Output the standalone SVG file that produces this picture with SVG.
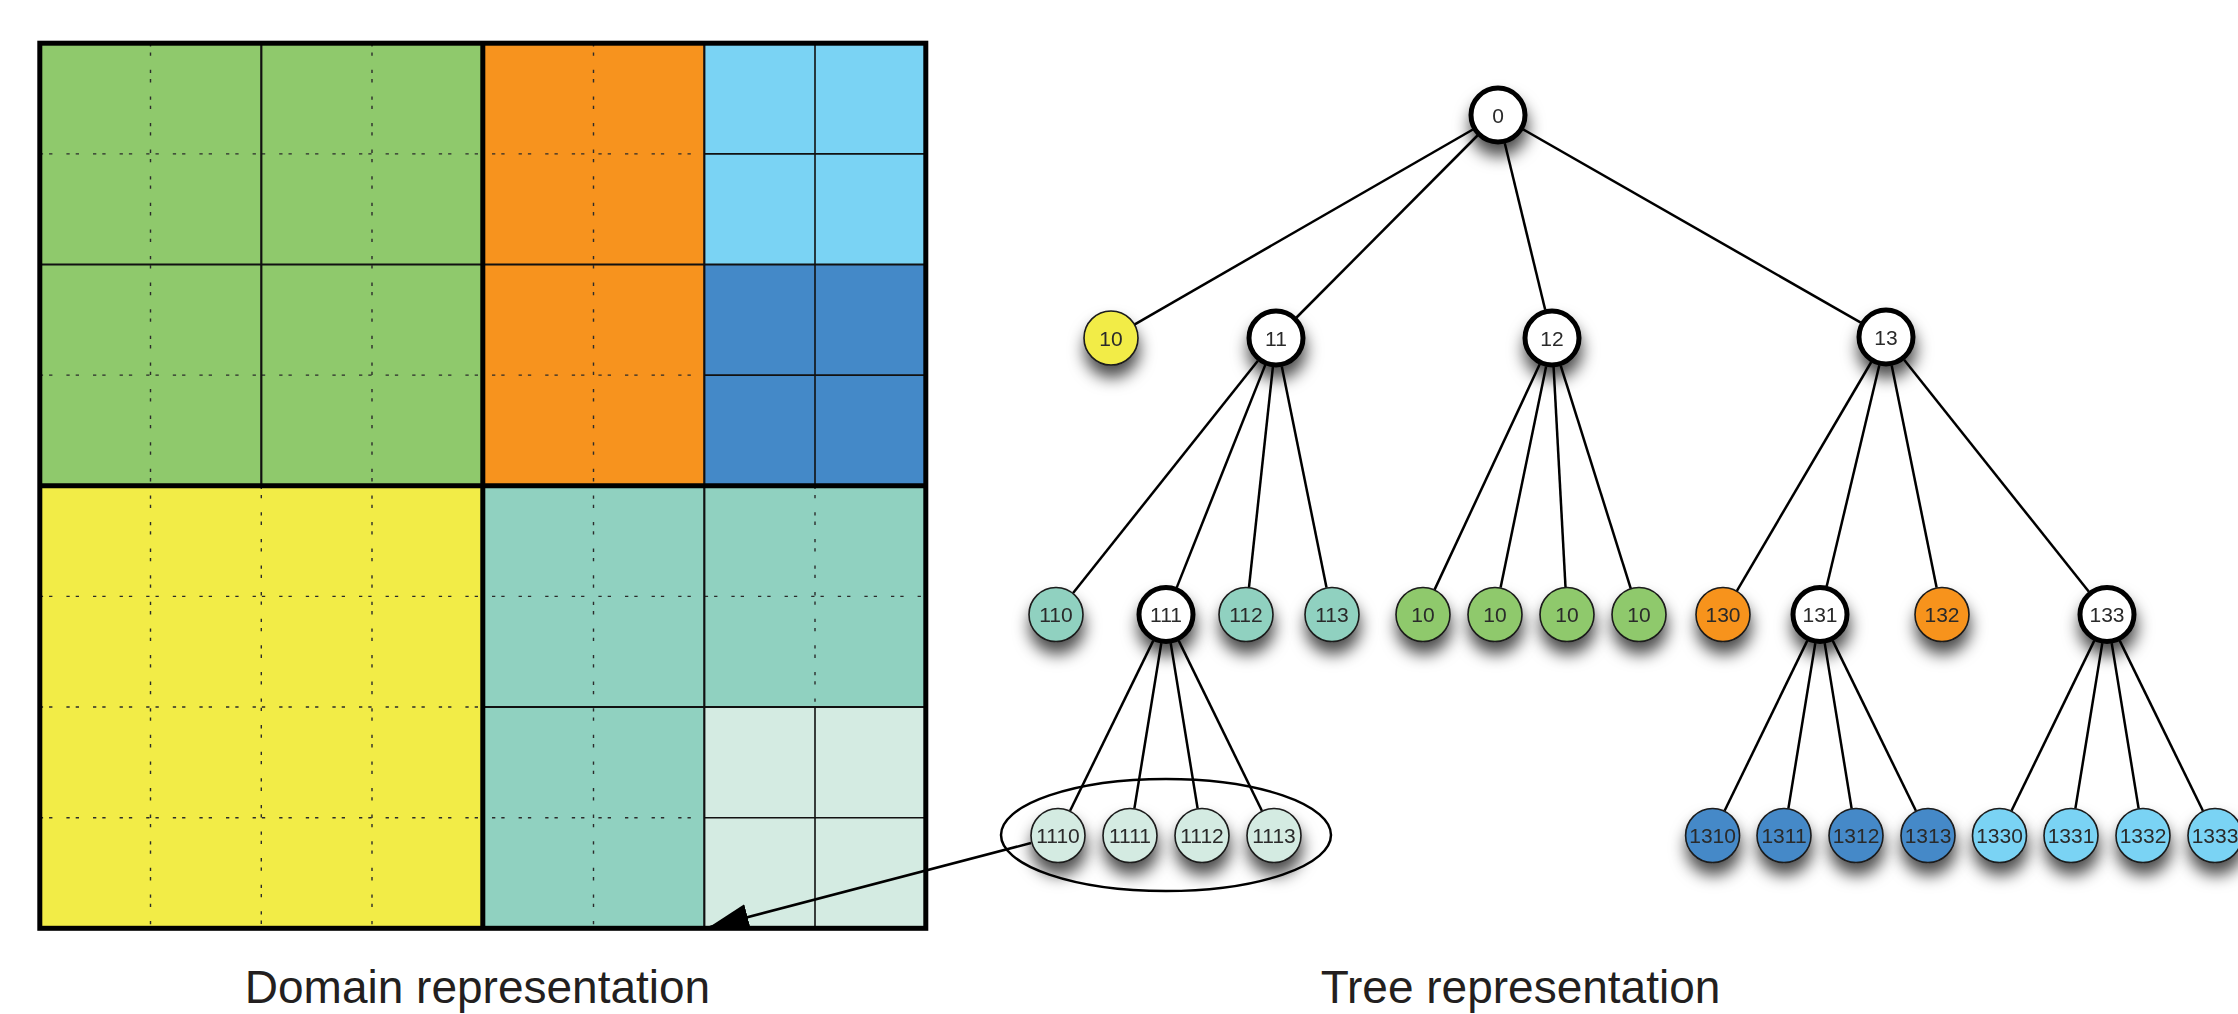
<svg xmlns="http://www.w3.org/2000/svg" width="2238" height="1014" viewBox="0 0 2238 1014">
  <style>
    .dot { stroke: #2b2b2b; stroke-width: 1.4; stroke-dasharray: 3.3 6 3.3 14; fill: none; }
    .q { stroke: #111; stroke-width: 2.2; fill: none; }
    .e { stroke: #111; stroke-width: 1.6; fill: none; }
    .thick { stroke: #000; stroke-width: 5; fill: none; }
    .edge { stroke: #000; stroke-width: 2.5; fill: none; }
    .leaf { stroke: #1a1a1a; stroke-width: 1.6; }
    .inner { fill: #fff; stroke: #000; stroke-width: 5; }
    .lbl { font-family: "Liberation Sans", Arial, sans-serif; font-size: 21px; fill: #2a2a2a; text-anchor: middle; }
    .title { font-family: "Liberation Sans", Arial, sans-serif; font-size: 46px; fill: #231f20; text-anchor: middle; }
    .yel { fill: #f2ec47; }
    .grn { fill: #8fc96c; }
    .org { fill: #f7931e; }
    .tea { fill: #90d1c0; }
    .ltt { fill: #d4ebe2; }
    .dbl { fill: #4489c8; }
    .lbl2 { fill: #7ad3f4; }
  </style>
  <defs>
    <filter id="shadow" x="-60%" y="-60%" width="220%" height="250%">
      <feDropShadow dx="1" dy="12" stdDeviation="8" flood-color="#000" flood-opacity="0.7"/>
    </filter>
    <marker id="arrowhead" markerUnits="userSpaceOnUse" markerWidth="40" markerHeight="30" viewBox="0 -12 36 24" refX="35" refY="0" orient="auto">
      <path d="M0,-12 L36,0 L0,12 z" fill="#000"/>
    </marker>
  </defs>

  <rect width="2238" height="1014" fill="#fff"/>

  <!-- Domain: quadtree cells -->
  <g id="domain">
    <rect class="grn" x="39.8" y="43.2" width="443" height="442.5"/>
    <rect class="org" x="482.8" y="43.2" width="221.5" height="442.5"/>
    <rect class="lbl2" x="704.3" y="43.2" width="221.5" height="221.3"/>
    <rect class="dbl" x="704.3" y="264.5" width="221.5" height="221.2"/>
    <rect class="yel" x="39.8" y="485.7" width="443" height="442.6"/>
    <rect class="tea" x="482.8" y="485.7" width="443" height="442.6"/>
    <rect class="ltt" x="704.3" y="707" width="221.5" height="221.3"/>

    <!-- finest grid, drawn dotted where cells are not refined -->
    <g>
      <line class="dot" x1="150.5" y1="43.2" x2="150.5" y2="928.3"/>
      <line class="dot" x1="372" y1="43.2" x2="372" y2="928.3"/>
      <line class="dot" x1="261.3" y1="485.7" x2="261.3" y2="928.3"/>
      <line class="dot" x1="593.5" y1="43.2" x2="593.5" y2="928.3"/>
      <line class="dot" x1="815" y1="485.7" x2="815" y2="707"/>
      <line class="dot" x1="39.8" y1="153.9" x2="704.3" y2="153.9"/>
      <line class="dot" x1="39.8" y1="375.1" x2="704.3" y2="375.1"/>
      <line class="dot" x1="39.8" y1="596.4" x2="925.8" y2="596.4"/>
      <line class="dot" x1="39.8" y1="707" x2="482.8" y2="707"/>
      <line class="dot" x1="39.8" y1="817.7" x2="704.3" y2="817.7"/>
    </g>

    <!-- level-2 cell borders -->
    <line class="q" x1="261.3" y1="43.2" x2="261.3" y2="485.7"/>
    <line class="q" x1="704.3" y1="43.2" x2="704.3" y2="928.3"/>
    <line class="q" x1="39.8" y1="264.5" x2="925.8" y2="264.5"/>
    <line class="q" x1="482.8" y1="707" x2="925.8" y2="707"/>

    <!-- level-3 cell borders -->
    <line class="e" x1="815" y1="43.2" x2="815" y2="485.7"/>
    <line class="e" x1="815" y1="707" x2="815" y2="928.3"/>
    <line class="e" x1="704.3" y1="153.9" x2="925.8" y2="153.9"/>
    <line class="e" x1="704.3" y1="375.1" x2="925.8" y2="375.1"/>
    <line class="e" x1="704.3" y1="817.7" x2="925.8" y2="817.7"/>

    <!-- level-1 cell borders and outline -->
    <line class="thick" x1="482.8" y1="43.2" x2="482.8" y2="928.3"/>
    <line class="thick" x1="39.8" y1="485.7" x2="925.8" y2="485.7"/>
    <rect class="thick" x="39.8" y="43.2" width="886" height="885.1"/>
  </g>

  <!-- Tree nodes -->
  <g id="n0" filter="url(#shadow)"><circle class="inner" cx="1498" cy="115" r="27"/><text class="lbl" x="1498" y="122.5">0</text></g>

  <g id="n10" filter="url(#shadow)"><circle class="leaf yel" cx="1111" cy="338" r="27"/><text class="lbl" x="1111" y="345.5">10</text></g>
  <g id="n11" filter="url(#shadow)"><circle class="inner" cx="1276" cy="338" r="27"/><text class="lbl" x="1276" y="345.5">11</text></g>
  <g id="n12" filter="url(#shadow)"><circle class="inner" cx="1552" cy="338" r="27"/><text class="lbl" x="1552" y="345.5">12</text></g>
  <g id="n13" filter="url(#shadow)"><circle class="inner" cx="1886" cy="337" r="27"/><text class="lbl" x="1886" y="344.5">13</text></g>

  <g id="n110" filter="url(#shadow)"><circle class="leaf tea" cx="1056" cy="614.5" r="27"/><text class="lbl" x="1056" y="622">110</text></g>
  <g id="n111" filter="url(#shadow)"><circle class="inner" cx="1166" cy="614.5" r="27"/><text class="lbl" x="1166" y="622">111</text></g>
  <g id="n112" filter="url(#shadow)"><circle class="leaf tea" cx="1246" cy="614.5" r="27"/><text class="lbl" x="1246" y="622">112</text></g>
  <g id="n113" filter="url(#shadow)"><circle class="leaf tea" cx="1332" cy="614.5" r="27"/><text class="lbl" x="1332" y="622">113</text></g>
  <g id="n120" filter="url(#shadow)"><circle class="leaf grn" cx="1423" cy="614.5" r="27"/><text class="lbl" x="1423" y="622">10</text></g>
  <g id="n121" filter="url(#shadow)"><circle class="leaf grn" cx="1495" cy="614.5" r="27"/><text class="lbl" x="1495" y="622">10</text></g>
  <g id="n122" filter="url(#shadow)"><circle class="leaf grn" cx="1567" cy="614.5" r="27"/><text class="lbl" x="1567" y="622">10</text></g>
  <g id="n123" filter="url(#shadow)"><circle class="leaf grn" cx="1639" cy="614.5" r="27"/><text class="lbl" x="1639" y="622">10</text></g>
  <g id="n130" filter="url(#shadow)"><circle class="leaf org" cx="1723" cy="614.5" r="27"/><text class="lbl" x="1723" y="622">130</text></g>
  <g id="n131" filter="url(#shadow)"><circle class="inner" cx="1820" cy="614.5" r="27"/><text class="lbl" x="1820" y="622">131</text></g>
  <g id="n132" filter="url(#shadow)"><circle class="leaf org" cx="1942" cy="614.5" r="27"/><text class="lbl" x="1942" y="622">132</text></g>
  <g id="n133" filter="url(#shadow)"><circle class="inner" cx="2107" cy="614.5" r="27"/><text class="lbl" x="2107" y="622">133</text></g>

  <g id="n1110" filter="url(#shadow)"><circle class="leaf ltt" cx="1058" cy="835.5" r="27"/><text class="lbl" x="1058" y="843">1110</text></g>
  <g id="n1111" filter="url(#shadow)"><circle class="leaf ltt" cx="1130" cy="835.5" r="27"/><text class="lbl" x="1130" y="843">1111</text></g>
  <g id="n1112" filter="url(#shadow)"><circle class="leaf ltt" cx="1202" cy="835.5" r="27"/><text class="lbl" x="1202" y="843">1112</text></g>
  <g id="n1113" filter="url(#shadow)"><circle class="leaf ltt" cx="1274" cy="835.5" r="27"/><text class="lbl" x="1274" y="843">1113</text></g>

  <g id="n1310" filter="url(#shadow)"><circle class="leaf dbl" cx="1712.6" cy="835.5" r="27"/><text class="lbl" x="1712.6" y="843">1310</text></g>
  <g id="n1311" filter="url(#shadow)"><circle class="leaf dbl" cx="1784" cy="835.5" r="27"/><text class="lbl" x="1784" y="843">1311</text></g>
  <g id="n1312" filter="url(#shadow)"><circle class="leaf dbl" cx="1856" cy="835.5" r="27"/><text class="lbl" x="1856" y="843">1312</text></g>
  <g id="n1313" filter="url(#shadow)"><circle class="leaf dbl" cx="1928" cy="835.5" r="27"/><text class="lbl" x="1928" y="843">1313</text></g>
  <g id="n1330" filter="url(#shadow)"><circle class="leaf lbl2" cx="1999.5" cy="835.5" r="27"/><text class="lbl" x="1999.5" y="843">1330</text></g>
  <g id="n1331" filter="url(#shadow)"><circle class="leaf lbl2" cx="2071" cy="835.5" r="27"/><text class="lbl" x="2071" y="843">1331</text></g>
  <g id="n1332" filter="url(#shadow)"><circle class="leaf lbl2" cx="2143" cy="835.5" r="27"/><text class="lbl" x="2143" y="843">1332</text></g>
  <g id="n1333" filter="url(#shadow)"><circle class="leaf lbl2" cx="2215" cy="835.5" r="27"/><text class="lbl" x="2215" y="843">1333</text></g>

  <!-- grouping of the children of 111 -->
  <g id="group111">
    <ellipse cx="1166" cy="835" rx="165" ry="56" fill="none" stroke="#000" stroke-width="2.5"/>
  </g>

  <!-- Connectors (trimmed at node borders) -->
  <g id="connectors">
    <line class="edge" x1="1472.9" y1="129.5" x2="1134.8" y2="324.3"/>
    <line class="edge" x1="1477.5" y1="135.5" x2="1296.5" y2="317.5"/>
    <line class="edge" x1="1504.8" y1="143.2" x2="1545.2" y2="309.8"/>
    <line class="edge" x1="1523.2" y1="129.4" x2="1860.8" y2="322.6"/>

    <line class="edge" x1="1257.9" y1="360.7" x2="1073.1" y2="593"/>
    <line class="edge" x1="1265.3" y1="364.9" x2="1176.7" y2="587.6"/>
    <line class="edge" x1="1272.9" y1="366.8" x2="1249" y2="587.2"/>
    <line class="edge" x1="1281.8" y1="366.4" x2="1326.5" y2="587.5"/>

    <line class="edge" x1="1539.7" y1="364.3" x2="1434.6" y2="589.6"/>
    <line class="edge" x1="1546.1" y1="366.4" x2="1500.6" y2="587.6"/>
    <line class="edge" x1="1553.6" y1="367" x2="1565.5" y2="587"/>
    <line class="edge" x1="1560.7" y1="365.7" x2="1630.7" y2="588.3"/>

    <line class="edge" x1="1871.3" y1="362" x2="1736.9" y2="590.8"/>
    <line class="edge" x1="1879.3" y1="365.2" x2="1826.7" y2="586.3"/>
    <line class="edge" x1="1891.7" y1="365.4" x2="1936.6" y2="587.5"/>
    <line class="edge" x1="1904.1" y1="359.7" x2="2088.9" y2="591.8"/>

    <line class="edge" x1="1153.3" y1="640.6" x2="1070.1" y2="810.8"/>
    <line class="edge" x1="1161.3" y1="643.1" x2="1134.4" y2="808.4"/>
    <line class="edge" x1="1170.7" y1="643.1" x2="1197.6" y2="808.4"/>
    <line class="edge" x1="1178.7" y1="640.6" x2="1261.9" y2="810.8"/>

    <line class="edge" x1="1807.3" y1="640.6" x2="1724.6" y2="810.8"/>
    <line class="edge" x1="1815.3" y1="643.1" x2="1788.4" y2="808.4"/>
    <line class="edge" x1="1824.7" y1="643.1" x2="1851.6" y2="808.4"/>
    <line class="edge" x1="1832.7" y1="640.6" x2="1915.9" y2="810.8"/>

    <line class="edge" x1="2094.3" y1="640.6" x2="2011.5" y2="810.8"/>
    <line class="edge" x1="2102.3" y1="643.1" x2="2075.4" y2="808.4"/>
    <line class="edge" x1="2111.7" y1="643.1" x2="2138.6" y2="808.4"/>
    <line class="edge" x1="2119.7" y1="640.6" x2="2202.9" y2="810.8"/>

    <!-- link from leaf 1110 to its cell in the domain -->
    <line class="edge" x1="1031" y1="843" x2="710" y2="927" marker-end="url(#arrowhead)"/>
  </g>

  <!-- Captions -->
  <text class="title" x="477.5" y="1003">Domain representation</text>
  <text class="title" x="1520.5" y="1003">Tree representation</text>
</svg>
